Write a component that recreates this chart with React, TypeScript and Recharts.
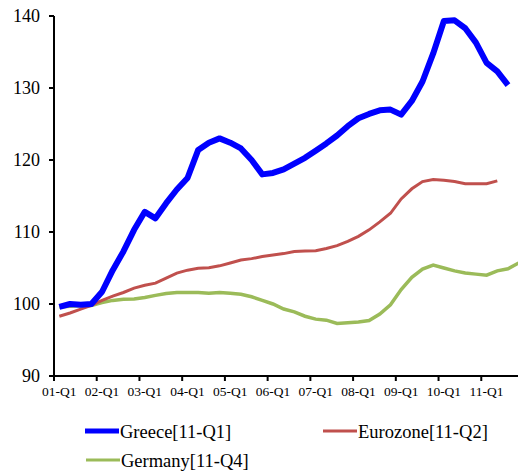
import { LineChart, Line, XAxis, YAxis, Legend } from "recharts";

// quarterly index, 01-Q1 .. 11-Q4
const years = ["01", "02", "03", "04", "05", "06", "07", "08", "09", "10", "11"];
const quarters = years.flatMap((y) => ["Q1", "Q2", "Q3", "Q4"].map((q) => `${y}-${q}`));
const tickLabels = ["01-Q1", "02-Q1", "03-Q1", "04-Q1", "05-Q1", "06-Q1", "07-Q1", "08-Q1", "09-Q1", "10-Q1", "11-Q1"];
const yTicks = [90, 100, 110, 120, 130, 140];

const greece = [
  99.6, 100.0, 99.9, 100.0, 101.7, 104.7, 107.3, 110.3, 112.8, 111.9,
  114.0, 115.9, 117.5, 121.4, 122.4, 123.0, 122.4, 121.6, 120.0, 118.0,
  118.2, 118.7, 119.5, 120.3, 121.3, 122.3, 123.4, 124.7, 125.8, 126.4,
  126.9, 127.0, 126.3, 128.2, 130.9, 134.8, 139.3, 139.4, 138.3, 136.3,
  133.5, 132.3, 130.4,
];
const eurozone = [
  98.3, 98.75, 99.3, 99.8, 100.5, 101.1, 101.6, 102.2, 102.6, 102.9,
  103.6, 104.3, 104.7, 104.95, 105.05, 105.3, 105.7, 106.1, 106.3, 106.6,
  106.8, 107.0, 107.3, 107.35, 107.4, 107.7, 108.1, 108.7, 109.4, 110.3,
  111.4, 112.6, 114.6, 116.0, 117.0, 117.3, 117.2, 117.0, 116.7, 116.7,
  116.7, 117.1,
];
const germany = [
  99.6, 99.7, 99.75, 99.8, 100.2, 100.5, 100.65, 100.7, 100.9, 101.2,
  101.45, 101.6, 101.6, 101.6, 101.5, 101.6, 101.5, 101.35, 101.0, 100.5,
  100.0, 99.3, 98.9, 98.3, 97.9, 97.75, 97.3, 97.4, 97.5, 97.7,
  98.6, 99.9, 102.0, 103.7, 104.85, 105.4, 105.0, 104.6, 104.3, 104.15,
  104.0, 104.6, 104.9, 105.7,
];

const data = quarters.map((q, i) => ({
  i, q, greece: greece[i], eurozone: eurozone[i], germany: germany[i],
}));
const xTicks = quarters.map((q, i) => (tickLabels.includes(q) ? i : -1)).filter((i) => i >= 0);

const FONT = '"Liberation Serif", "Times New Roman", serif';
const W = 530, H = 476;
const LEFT = 54, RIGHT = 6;
const HALF = (W - LEFT - RIGHT) / quarters.length / 2;

const QuarterTick = (props: any) => {
  const { x, y, payload } = props;
  return (
    <g>
      <line x1={x - HALF} x2={x - HALF} y1={y} y2={y + 5} stroke="#000" strokeWidth={2} />
      <text x={x} y={y + 10} dy="0.71em" textAnchor="middle" fontSize={13.5} fontFamily={FONT} fill="#000">
        {quarters[payload.value]}
      </text>
    </g>
  );
};

const legendItems = [
  { name: "Greece[11-Q1]", color: "#0000FF", w: 5, x: 85, y: 16 },
  { name: "Eurozone[11-Q2]", color: "#C0504D", w: 3, x: 323, y: 16 },
  { name: "Germany[11-Q4]", color: "#9BBB59", w: 3, x: 86, y: 45 },
];

const renderLegend = () => (
  <svg width={518} height={60}>
    {legendItems.map((it) => (
      <g key={it.name}>
        <line x1={it.x} x2={it.x + 34} y1={it.y} y2={it.y} stroke={it.color} strokeWidth={it.w} />
        <text x={it.x + 35} y={it.y} dy="0.36em" fontSize={18.5} fontFamily={FONT} fill="#000">
          {it.name}
        </text>
      </g>
    ))}
  </svg>
);

export default function App() {
  return (
    <div style={{ position: "absolute", left: 0, top: 0, width: 518, height: 476, overflow: "hidden", background: "#fff" }}>
      <LineChart width={W} height={H} data={data} margin={{ top: 16, right: RIGHT, bottom: 0, left: 0 }}>
        <XAxis
          dataKey="i" type="number" domain={[-0.5, quarters.length - 0.5]} ticks={xTicks}
          height={100} tickLine={false} tickSize={0} tickMargin={0}
          axisLine={{ stroke: "#000", strokeWidth: 2 }} tick={<QuarterTick />} interval={0}
        />
        <YAxis
          domain={[90, 140]} ticks={yTicks} width={LEFT} tickSize={5} tickMargin={9}
          axisLine={{ stroke: "#000", strokeWidth: 2 }} tickLine={{ stroke: "#000", strokeWidth: 2 }}
          tick={{ fontSize: 18, fontFamily: FONT, fill: "#000" }}
        />
        <Legend
          layout="horizontal" verticalAlign="middle" align="center"
          wrapperStyle={{ top: 415, left: 0, width: 518 }} content={renderLegend}
        />
        <Line dataKey="germany" stroke="#9BBB59" strokeWidth={3.5} dot={false} isAnimationActive={false} />
        <Line dataKey="eurozone" stroke="#C0504D" strokeWidth={3} dot={false} isAnimationActive={false} />
        <Line dataKey="greece" stroke="#0000FF" strokeWidth={6} dot={false} isAnimationActive={false} strokeLinejoin="round" />
      </LineChart>
    </div>
  );
}
